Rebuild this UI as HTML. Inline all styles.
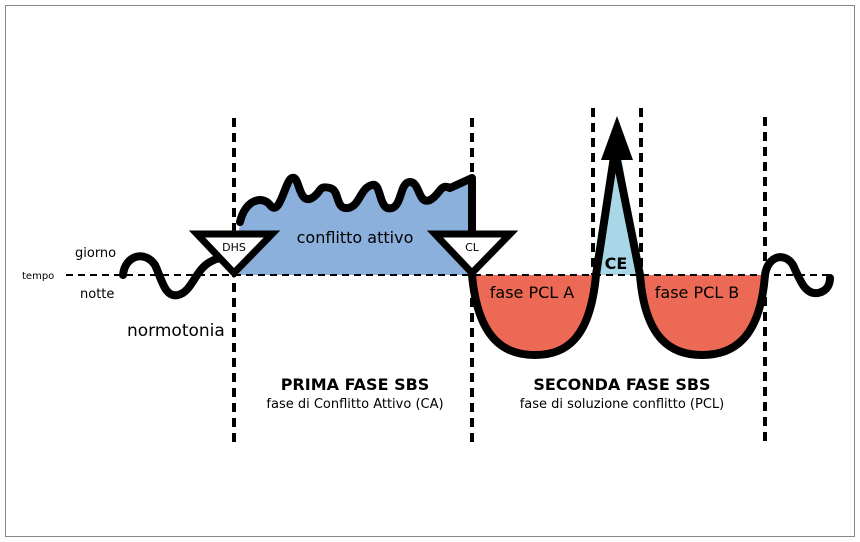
<!DOCTYPE html>
<html><head><style>body{margin:0;background:#fff}svg{display:block}text{font-family:"DejaVu Sans","Liberation Sans",sans-serif;fill:#000}</style></head>
<body>
<svg width="860" height="542" viewBox="0 0 860 542">
<rect x="5.5" y="5.5" width="849" height="531" fill="#fff" stroke="#888" stroke-width="1"/>
<path d="M234,275 L240,222 C245,200 262,195 270,205 C280,218 285,180 292,178 C300,175 298,205 312,198 C322,192 318,185 330,188 C340,190 335,210 348,208 C360,206 360,188 372,185 C382,182 378,212 392,208 C402,205 400,182 410,182 C420,182 418,205 430,200 C440,195 440,183 450,188 L472,178 L472,275 Z" fill="#8bb0dc"/>
<path d="M472,275 C478,340 505,355 535,355 C565,355 590,340 596,275 Z" fill="#ec6a55"/>
<path d="M640,275 C645,340 672,355 702,355 C732,355 760,340 765,275 Z" fill="#ec6a55"/>
<path d="M596,275 L612,160 L622,160 L640,275 Z" fill="#a8d8e8"/>
<g stroke="#000" stroke-width="4" stroke-dasharray="9,6" fill="none">
<line x1="234" y1="118" x2="234" y2="442"/>
<line x1="472" y1="118" x2="472" y2="442"/>
<line x1="593" y1="108" x2="593" y2="275"/>
<line x1="641" y1="108" x2="641" y2="275"/>
<line x1="765" y1="117" x2="765" y2="442"/>
</g>
<line x1="66" y1="275" x2="830" y2="275" stroke="#000" stroke-width="2" stroke-dasharray="7,5"/>
<g stroke="#000" stroke-width="8" fill="none" stroke-linejoin="round" stroke-linecap="round">
<path d="M123,275 C125,255 145,250 155,265 C162,280 165,298 178,295 C192,292 195,270 210,262 C220,256 225,258 230,262"/>
<path d="M240,222 C245,200 262,195 270,205 C280,218 285,180 292,178 C300,175 298,205 312,198 C322,192 318,185 330,188 C340,190 335,210 348,208 C360,206 360,188 372,185 C382,182 378,212 392,208 C402,205 400,182 410,182 C420,182 418,205 430,200 C440,195 440,183 450,188 L472,178 L472,235"/>
<path d="M472,275 C478,340 505,355 535,355 C565,355 590,340 596,275 L615,150 L640,275 C645,340 672,355 702,355 C732,355 760,340 765,275 C768,255 785,252 793,265 C800,280 805,295 818,293 C828,291 830,283 830,278"/>
</g>
<polygon points="617,116 601,160 633,160" fill="#000"/>
<polygon points="197,234 272,234 234,273" fill="#fff" stroke="#000" stroke-width="7"/>
<polygon points="435,234 510,234 472,273" fill="#fff" stroke="#000" stroke-width="7"/>
<text x="234" y="251" font-size="11" text-anchor="middle">DHS</text>
<text x="472" y="251" font-size="11" text-anchor="middle">CL</text>
<text x="75" y="257" font-size="13">giorno</text>
<text x="22" y="279" font-size="10">tempo</text>
<text x="80" y="298" font-size="13">notte</text>
<text x="127" y="336" font-size="17">normotonia</text>
<text x="355" y="243" font-size="16" text-anchor="middle">conflitto attivo</text>
<text x="616" y="269" font-size="16" font-weight="bold" text-anchor="middle">CE</text>
<text x="532" y="298" font-size="16" text-anchor="middle">fase PCL A</text>
<text x="697" y="298" font-size="16" text-anchor="middle">fase PCL B</text>
<text x="355" y="390" font-size="16" font-weight="bold" text-anchor="middle">PRIMA FASE SBS</text>
<text x="355" y="408" font-size="13" text-anchor="middle">fase di Conflitto Attivo (CA)</text>
<text x="622" y="390" font-size="16" font-weight="bold" text-anchor="middle">SECONDA FASE SBS</text>
<text x="622" y="408" font-size="13" text-anchor="middle">fase di soluzione conflitto (PCL)</text>
</svg>
</body></html>
